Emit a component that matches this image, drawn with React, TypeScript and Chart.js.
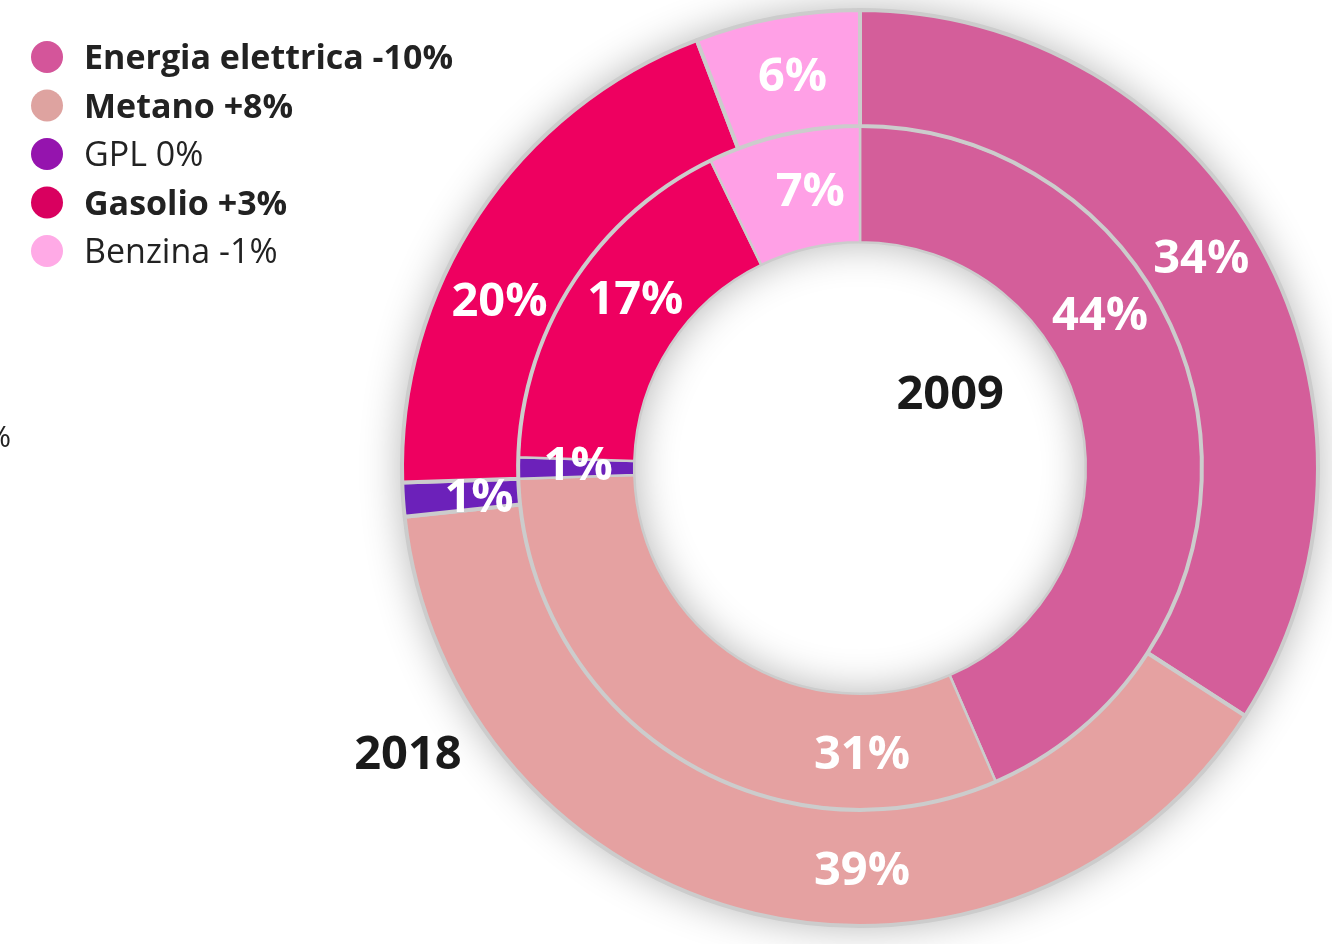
import React, { useEffect, useRef } from 'react';
import { Chart, registerables } from 'chart.js';

Chart.register(...registerables);

// ---- data ----
const categories = ['Energia elettrica', 'Metano', 'GPL', 'Gasolio', 'Benzina'];
const changes = ['-10%', '+8%', '0%', '+3%', '-1%'];
const values2018 = [34.1, 39.2, 1.2, 19.7, 5.8];
const values2009 = [43.5, 31.0, 1.0, 17.3, 7.2];
const years = ['2018', '2009'];

// ---- styles ----
const segmentColors = ['#d45e9a', '#e5a1a1', '#6c21ba', '#ee0060', '#ffa0e6'];
const legendColors = ['#d4559a', '#dea3a0', '#9514ae', '#d9005f', '#ffaae6'];
const legendBold = [true, true, false, true, false];
const labelAngles = [
  [58, 180, 266, 295, 350],
  [57, 180, 271, 307, 349.5],
];
const labelRadiusShift = [
  [0, 0, -16, 0, 0],
  [0, 0, 0, 0, 0],
];
const FONT = '"Open Sans", "Noto Sans", sans-serif';
const LABEL_SIZE = 47;
const LEGEND_SIZE = 34;

const ringShadow = {
  id: 'ringShadow',
  beforeDatasetsDraw(chart: any) {
    const m0 = chart.getDatasetMeta(0).data[0];
    const m1 = chart.getDatasetMeta(1).data[0];
    if (!m0 || !m1) return;
    const ctx = chart.ctx;
    ctx.save();
    ctx.beginPath();
    ctx.arc(m0.x, m0.y, m0.outerRadius, 0, Math.PI * 2, false);
    ctx.arc(m0.x, m0.y, m1.innerRadius, Math.PI * 2, 0, true);
    ctx.closePath();
    ctx.shadowColor = 'rgba(0,0,0,0.3)';
    ctx.shadowBlur = 42;
    ctx.fillStyle = '#ffffff';
    ctx.fill();
    ctx.restore();
  },
};

const valueLabels = {
  id: 'valueLabels',
  afterDatasetsDraw(chart: any) {
    const ctx = chart.ctx;
    ctx.save();
    ctx.fillStyle = '#ffffff';
    ctx.font = `bold ${LABEL_SIZE}px ${FONT}`;
    ctx.textAlign = 'center';
    ctx.textBaseline = 'alphabetic';
    chart.data.datasets.forEach((ds: any, di: number) => {
      const meta = chart.getDatasetMeta(di);
      meta.data.forEach((arc: any, i: number) => {
        const r = (arc.innerRadius + arc.outerRadius) / 2 + labelRadiusShift[di][i];
        const a = (labelAngles[di][i] * Math.PI) / 180;
        const x = arc.x + r * Math.sin(a) + 2;
        const y = arc.y - r * Math.cos(a);
        ctx.fillText(Math.round(ds.data[i]) + '%', x, y + LABEL_SIZE * 0.36);
      });
    });
    // year labels
    const a0 = chart.getDatasetMeta(0).data[0];
    const R = a0.outerRadius;
    ctx.fillStyle = '#1a1a1a';
    ctx.fillText(years[1], a0.x + R * 0.197, a0.y - R * 0.166 + LABEL_SIZE * 0.36);
    ctx.fillText(years[0], a0.x - R * 0.987, a0.y + R * 0.62 + LABEL_SIZE * 0.36);
    ctx.restore();
  },
  afterDraw(chart: any) {
    const ctx = chart.ctx;
    ctx.save();
    // legend
    categories.forEach((c, i) => {
      const cy = 57 + i * 48.5;
      ctx.beginPath();
      ctx.arc(47, cy, 16, 0, Math.PI * 2);
      ctx.fillStyle = legendColors[i];
      ctx.fill();
      ctx.fillStyle = '#222222';
      ctx.font = `${legendBold[i] ? 'bold ' : ''}${LEGEND_SIZE}px ${FONT}`;
      ctx.textAlign = 'left';
      ctx.textBaseline = 'alphabetic';
      ctx.fillText(`${c} ${changes[i]}`, 84, cy + LEGEND_SIZE * 0.36);
    });
    // clipped stray label at left edge
    ctx.font = `30px ${FONT}`;
    ctx.textAlign = 'right';
    ctx.fillStyle = '#222222';
    ctx.fillText('0%', 11, 447);
    ctx.restore();
  },
};

export default function App() {
  const ref = useRef<HTMLCanvasElement>(null);
  useEffect(() => {
    document.body.style.margin = '0';
    const chart = new Chart(ref.current!, {
      type: 'doughnut',
      data: {
        labels: categories,
        datasets: [
          {
            label: years[0],
            data: values2018,
            backgroundColor: segmentColors,
            borderColor: '#cccccc',
            borderWidth: 4,
          },
          {
            label: years[1],
            data: values2009,
            backgroundColor: segmentColors,
            borderColor: '#cccccc',
            borderWidth: 2.5,
          },
        ],
      },
      options: {
        responsive: false,
        animation: false,
        devicePixelRatio: 1,
        cutout: '49.3%',
        layout: { padding: { left: 400, right: 12, top: 8, bottom: 16 } },
        plugins: {
          legend: { display: false },
          tooltip: { enabled: false },
        },
      },
      plugins: [ringShadow, valueLabels],
    });
    return () => chart.destroy();
  }, []);
  return <canvas ref={ref} width={1332} height={944} style={{ display: 'block' }} />;
}
